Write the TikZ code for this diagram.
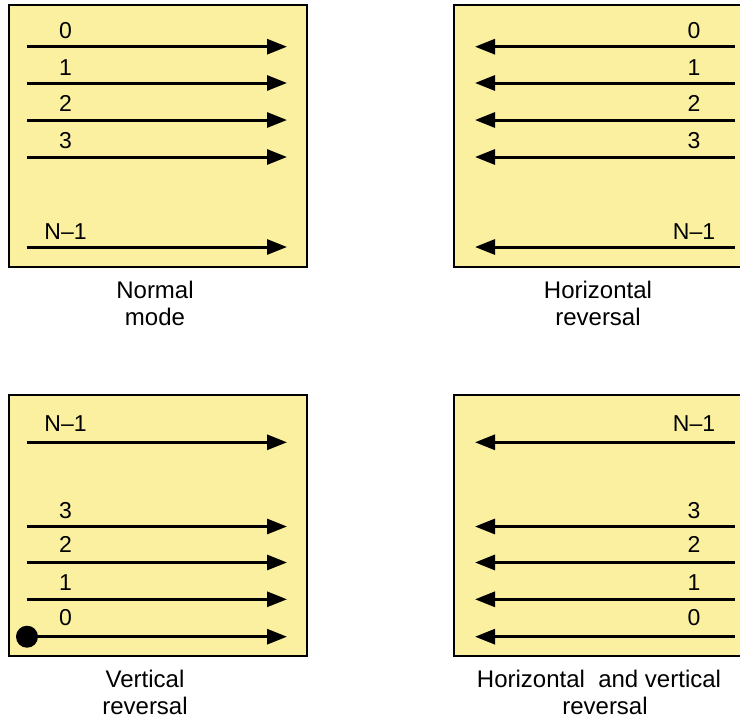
\documentclass[tikz,border=0pt]{standalone}
\usepackage{fontspec}
\setmainfont{Liberation Sans}
\usetikzlibrary{arrows.meta}
\definecolor{panelfill}{RGB}{250,240,160}
\begin{document}
\begin{tikzpicture}[x=1pt,y=-1pt,
  panel/.style={fill=panelfill,draw=black,line width=2.5pt},
  rowarrow/.style={line width=3pt,-{Triangle[length=20pt,width=15pt]}},
  lbl/.style={font=\fontsize{23}{27}\selectfont,anchor=base,inner sep=0pt},
  captxt/.style={font=\fontsize{24}{28}\selectfont,anchor=base,inner sep=0pt}]
\useasboundingbox (0,0) rectangle (740,721);
% panels
\draw[panel] (9,5) rectangle (307,267);
\draw[panel] (9,395) rectangle (307,656);
\fill[panelfill] (454,5) rectangle (740,267);
\draw[line width=2.5pt] (741,5) -- (454,5) -- (454,267) -- (741,267);
\fill[panelfill] (454,395) rectangle (740,656);
\draw[line width=2.5pt] (741,395) -- (454,395) -- (454,656) -- (741,656);
% top-left: normal mode
\foreach \y/\b/\t/\n in {46.7/38.4/0/a, 83/75/1/b, 120/111.7/2/c, 157/148.5/3/d, 247/239/N–1/e} {
  \coordinate (tl-\n-s) at (27,\y);
  \coordinate (tl-\n-e) at (287,\y);
  \draw[rowarrow] (tl-\n-s) -- (tl-\n-e);
  \node[lbl] (tl-\n-l) at (65.5,\b) {\t};
}
% top-right: horizontal reversal
\foreach \y/\b/\t/\n in {46.7/38.4/0/a, 83/75/1/b, 120/111.7/2/c, 157/148.5/3/d, 247/239/N–1/e} {
  \coordinate (tr-\n-s) at (735,\y);
  \coordinate (tr-\n-e) at (475,\y);
  \draw[rowarrow] (tr-\n-s) -- (tr-\n-e);
  \node[lbl] (tr-\n-l) at (694,\b) {\t};
}
% bottom-left: vertical reversal
\foreach \y/\b/\t/\n in {442.3/431.7/N–1/e, 526.5/518.3/3/d, 562.5/552.7/2/c, 599.3/590/1/b, 636.7/625/0/a} {
  \coordinate (bl-\n-s) at (27,\y);
  \coordinate (bl-\n-e) at (287,\y);
  \draw[rowarrow] (bl-\n-s) -- (bl-\n-e);
  \node[lbl] (bl-\n-l) at (65.5,\b) {\t};
}
\node[circle,fill=black,minimum size=22pt,inner sep=0pt] (dot) at (bl-a-s) {};
% bottom-right: horizontal and vertical reversal
\foreach \y/\b/\t/\n in {442.3/431.7/N–1/e, 526.5/518.3/3/d, 562.5/552.7/2/c, 599.3/590/1/b, 636.7/625/0/a} {
  \coordinate (br-\n-s) at (735,\y);
  \coordinate (br-\n-e) at (475,\y);
  \draw[rowarrow] (br-\n-s) -- (br-\n-e);
  \node[lbl] (br-\n-l) at (694,\b) {\t};
}
% captions
\node[captxt] (captl1) at (155,298) {Normal};
\node[captxt] (captl2) at (155,325) {mode};
\node[captxt] (captr1) at (598,298) {Horizontal};
\node[captxt] (captr2) at (598,325) {reversal};
\node[captxt] (capbl1) at (145,687) {Vertical};
\node[captxt] (capbl2) at (145,714) {reversal};
\node[captxt] (capbr1) at (599,687) {Horizontal~ and vertical};
\node[captxt] (capbr2) at (605,714) {reversal};
\end{tikzpicture}
\end{document}
